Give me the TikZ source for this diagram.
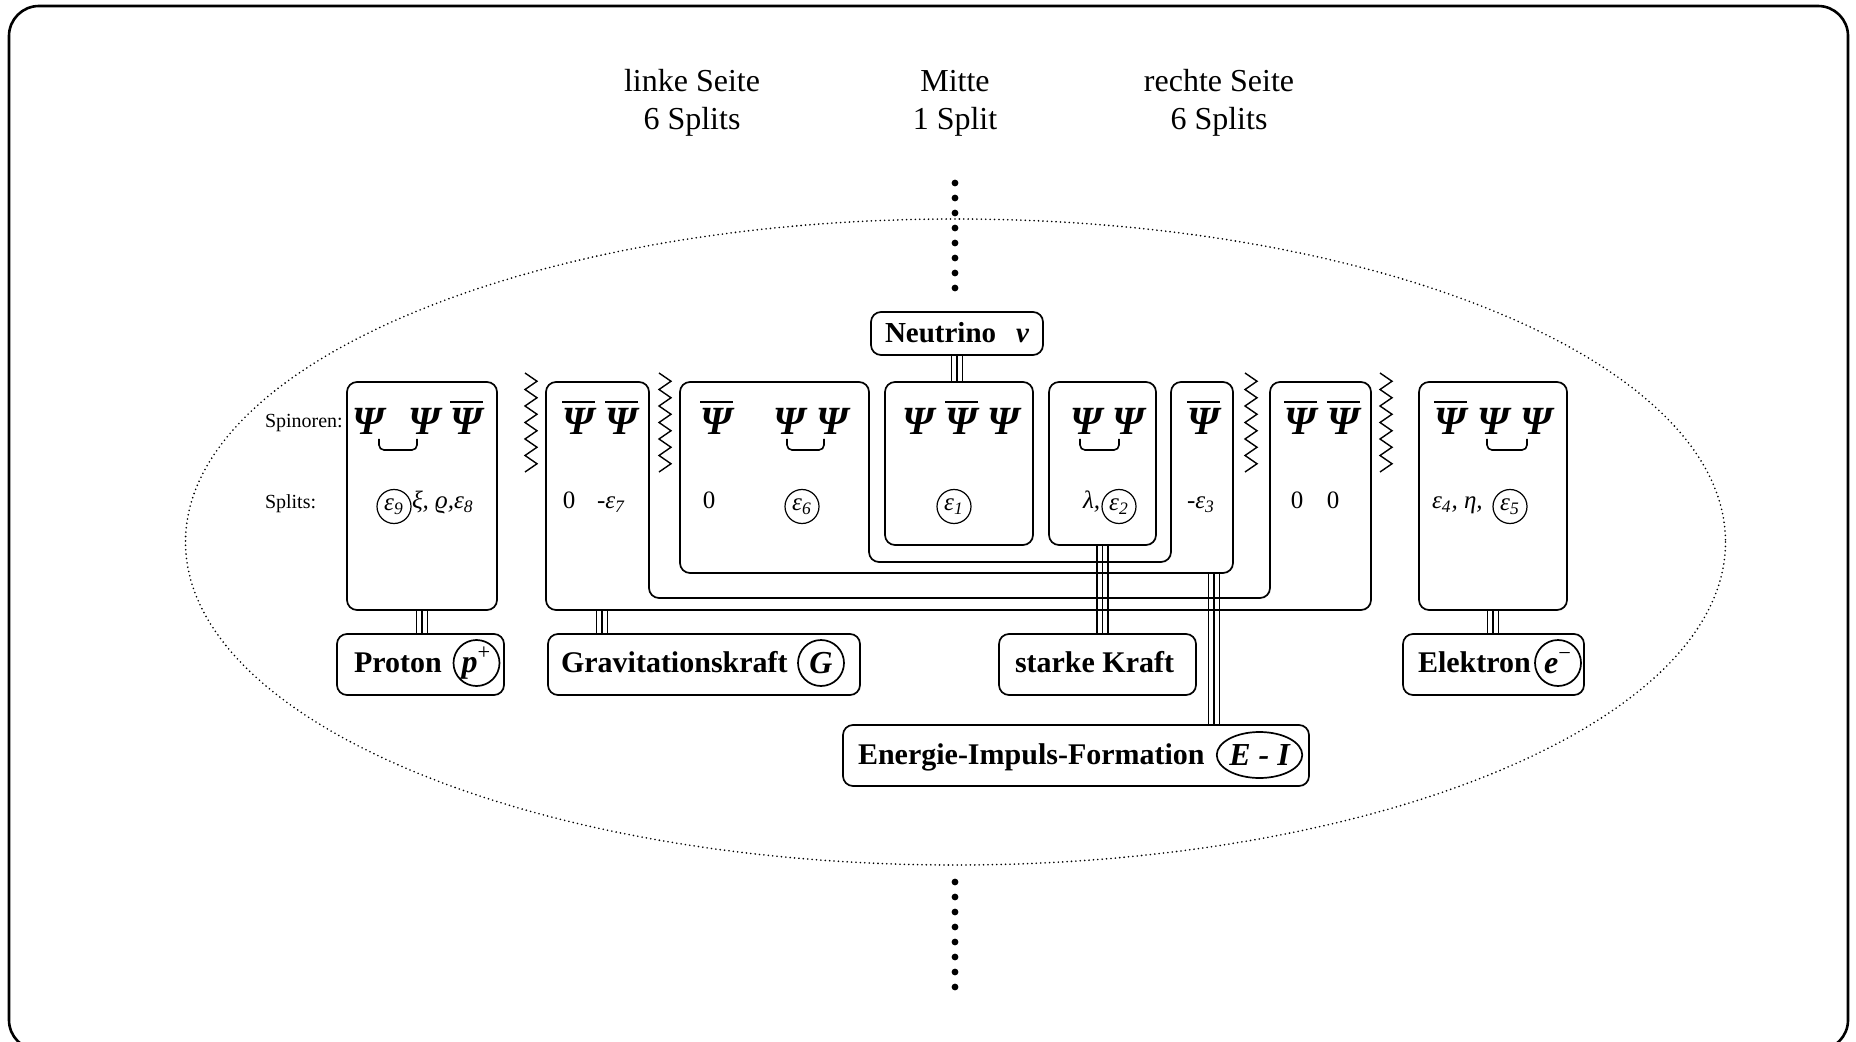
\documentclass[tikz,border=0pt]{standalone}
\usepackage{fontspec}
\setmainfont{Liberation Serif}
\usetikzlibrary{calc,shapes.geometric}
\newcommand\ep[1]{ε\textsubscript{#1}}
\newcommand\mytriple[2]{\foreach \d in {-5.5,0,5.5}{\draw[tline] ($#1+(\d,0)$) -- ($#2+(\d,0)$);}}
\newcommand\myzig[1]{\draw[zz] (#1,373) \foreach \i in {1,...,6}{ -- ({#1+12},{373+16.5*\i-8.25}) -- (#1,{373+16.5*\i})};}
\newcommand\mypsibar[1]{\draw[bar] ($(#1.base)+(-16,-33)$) -- ($(#1.base)+(17,-33)$);}
\newcommand\mybracket[4]{\draw[brk] ($(#1.base)+(#2,4)$) |- ($(#3.base)+(#4,15)$) -- ($(#3.base)+(#4,4)$);}
\begin{document}
\begin{tikzpicture}[x=0.5pt,y=-0.5pt,
  every node/.style={inner sep=0pt, outer sep=0pt},
  frame/.style={draw, line width=1.3pt, rounded corners=15pt},
  box/.style={draw, line width=0.85pt, rounded corners=5pt},
  lbl/.style={box, minimum height=30.5pt},
  psi/.style={font=\fontsize{20}{24}\selectfont\bfseries\itshape, anchor=base},
  bar/.style={line width=1.35pt},
  brk/.style={line width=0.8pt, rounded corners=2.5pt},
  spl/.style={font=\fontsize{12.5}{15}\selectfont, anchor=base west},
  cir/.style={draw, circle, line width=0.6pt, minimum size=17pt, anchor=center, font=\fontsize{12.5}{15}\selectfont\itshape},
  lcir/.style={draw, circle, line width=0.85pt, minimum size=23pt, font=\fontsize{16}{19}\selectfont},
  ltxt/.style={font=\fontsize{15}{18}\selectfont\bfseries, anchor=base west},
  tline/.style={line width=0.6pt},
  zz/.style={line width=0.7pt},
  ell/.style={line width=0.9pt, dash pattern=on 0pt off 2.2pt, line cap=round},
  head/.style={font=\fontsize{16}{19}\selectfont, align=center},
  small/.style={font=\fontsize{10}{12}\selectfont, anchor=base west}
]
\useasboundingbox (0,0) rectangle (1856,1042);
\draw[frame] (9,6) rectangle (1848,1050);
\draw[ell] (955.5,542) ellipse [x radius=770, y radius=323];

% headers
\node[head] (hl) at (692,103) {linke Seite\\6 Splits};
\node[head] (hm) at (955,103) {Mitte\\1 Split};
\node[head] (hr) at (1219,103) {rechte Seite\\6 Splits};

% dots
\foreach \i in {0,...,7} {
  \fill (955,{183+15*\i}) circle (3.4);
  \fill (955,{882+15*\i}) circle (3.4);
}

% boxes
\node[box, minimum width=75pt, minimum height=114pt] (pbox) at (422,496) {};
\node[box, minimum width=74pt, minimum height=114pt] (ebox) at (1493,496) {};
\node[box, minimum width=74pt, minimum height=81.5pt] (nbox) at (959,463.5) {};
\node[box, minimum width=53.5pt, minimum height=81.5pt] (lbox) at (1102.5,463.5) {};
\draw[box] (546,500) -- (546,382) -- (649,382) -- (649,598) -- (1270,598) -- (1270,382) -- (1371,382) -- (1371,610) -- (546,610) -- cycle;
\draw[box] (680,500) -- (680,382) -- (869,382) -- (869,562) -- (1171,562) -- (1171,382) -- (1233,382) -- (1233,573) -- (680,573) -- cycle;
\coordinate (gU) at (602,610);
\coordinate (eiU) at (1214,573);

% zigzags
\myzig{525}
\myzig{659}
\myzig{1245}
\myzig{1380}

% Psi
\node[psi] (p1) at (368,435) {Ψ};
\node[psi] (p2) at (424,435) {Ψ};
\node[psi] (p3) at (466,435) {Ψ};
\node[psi] (g1) at (578,435) {Ψ};
\node[psi] (g2) at (621,435) {Ψ};
\node[psi] (s1) at (716,435) {Ψ};
\node[psi] (s2) at (789,435) {Ψ};
\node[psi] (s3) at (832,435) {Ψ};
\node[psi] (n1) at (918,435) {Ψ};
\node[psi] (n2) at (961,435) {Ψ};
\node[psi] (n3) at (1003,435) {Ψ};
\node[psi] (l1) at (1086,435) {Ψ};
\node[psi] (l2) at (1128,435) {Ψ};
\node[psi] (e1) at (1203,435) {Ψ};
\node[psi] (z1) at (1300,435) {Ψ};
\node[psi] (z2) at (1343,435) {Ψ};
\node[psi] (q1) at (1450,435) {Ψ};
\node[psi] (q2) at (1493,435) {Ψ};
\node[psi] (q3) at (1536,435) {Ψ};
\mypsibar{p3}\mypsibar{g1}\mypsibar{g2}\mypsibar{s1}\mypsibar{n2}\mypsibar{e1}\mypsibar{z1}\mypsibar{z2}\mypsibar{q1}
\mybracket{p1}{11}{p2}{-7}
\mybracket{s2}{-2}{s3}{-8}
\mybracket{l1}{-6}{l2}{-9}
\mybracket{q2}{-6}{q3}{-9}

% row labels
\node[small] (lsp) at (265,428) {Spinoren:};
\node[small] (lsl) at (265,509) {Splits:};

% splits
\node[cir] (c9) at (394,506.5) {\ep{9}};
\node[spl] (t9) at (412,509) {\itshape ξ, ϱ,\ep{8}};
\node[spl, anchor=base] (t0a) at (569,509) {0};
\node[spl] (t7) at (597,509) {-{\itshape\ep{7}}};
\node[spl, anchor=base] (t0b) at (709,509) {0};
\node[cir] (c6) at (802,506.5) {\ep{6}};
\node[cir] (c1) at (954,506.5) {\ep{1}};
\node[spl] (tl) at (1083,509) {\itshape λ,};
\node[cir] (c2) at (1119,506.5) {\ep{2}};
\node[spl] (t3) at (1187,509) {-{\itshape\ep{3}}};
\node[spl, anchor=base] (t0c) at (1297,509) {0};
\node[spl, anchor=base] (t0d) at (1333,509) {0};
\node[spl] (t4) at (1432,509) {\itshape \ep{4}, η,};
\node[cir] (c5) at (1510,506.5) {\ep{5}};

% label boxes
\node[box, minimum width=86pt, minimum height=21.5pt] (nlab) at (957,333.5) {};
\node[lbl, minimum width=83.5pt] (plab) at (420.5,664.5) {};
\node[lbl, minimum width=156pt] (glab) at (704,664.5) {};
\node[lbl, minimum width=98.5pt] (klab) at (1097.5,664.5) {};
\node[lbl, minimum width=90.5pt] (elab) at (1493.5,664.5) {};
\node[lbl, minimum width=233pt] (eilab) at (1076,755.5) {};

\node[ltxt, font=\fontsize{14.5}{17}\selectfont\bfseries] (nt) at (885,343) {Neutrino};
\node[ltxt, font=\fontsize{14.5}{17}\selectfont\bfseries\itshape] (nu) at (1016,343) {ν};
\node[ltxt] (pt) at (354,672) {Proton};
\node[ltxt] (gt) at (561,672) {Gravitationskraft};
\node[ltxt] (kt) at (1015,672) {starke Kraft};
\node[ltxt] (et) at (1418,672) {Elektron};
\node[ltxt] (eit) at (858,764) {Energie-Impuls-Formation};
\node[lcir] (pc) at (476.5,663) {{\bfseries\itshape p}\textsuperscript{+}};
\node[lcir] (gc) at (821,663) {\bfseries\itshape G};
\node[lcir] (ec) at (1558,663) {{\bfseries\itshape e}\textsuperscript{−}};
\node[draw, ellipse, line width=0.85pt, minimum width=42.5pt, minimum height=23pt, font=\fontsize{16}{19}\selectfont\bfseries\itshape] (eic) at (1259.5,755) {E - I};

% triple connectors
\mytriple{(nlab.south)}{(nlab.south |- nbox.north)}
\mytriple{(pbox.south)}{(pbox.south |- plab.north)}
\mytriple{(gU)}{(gU |- glab.north)}
\mytriple{(lbox.south)}{(lbox.south |- klab.north)}
\mytriple{(eiU)}{(eiU |- eilab.north)}
\mytriple{(ebox.south)}{(ebox.south |- elab.north)}
\end{tikzpicture}
\end{document}
